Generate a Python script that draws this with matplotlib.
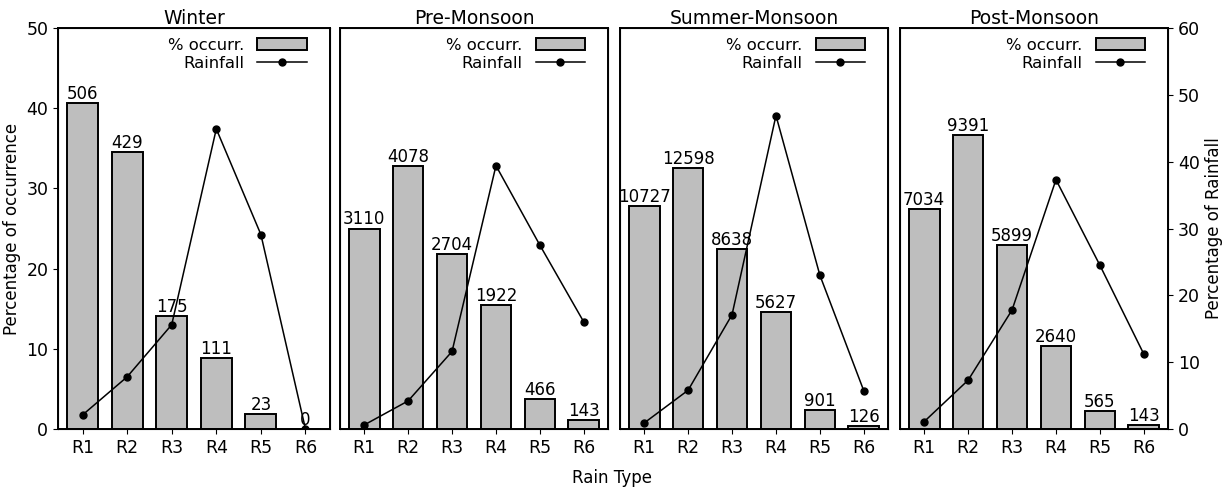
import matplotlib
matplotlib.use("Agg")
import matplotlib.pyplot as plt
from matplotlib.patches import Patch
from matplotlib.lines import Line2D

rain_types = ["R1", "R2", "R3", "R4", "R5", "R6"]
seasons = ["Winter", "Pre-Monsoon", "Summer-Monsoon", "Post-Monsoon"]

counts_winter = [506, 429, 175, 111, 23, 0]
counts_pre = [3110, 4078, 2704, 1922, 466, 143]
counts_summer = [10727, 12598, 8638, 5627, 901, 126]
counts_post = [7034, 9391, 5899, 2640, 565, 143]

occ_winter = [40.7, 34.5, 14.1, 8.9, 1.85, 0.0]
occ_pre = [25.0, 32.8, 21.8, 15.5, 3.75, 1.15]
occ_summer = [27.8, 32.6, 22.4, 14.6, 2.33, 0.33]
occ_post = [27.4, 36.6, 23.0, 10.3, 2.2, 0.56]

rain_winter = [2.1, 7.8, 15.6, 44.9, 29.1, 0.0]
rain_pre = [0.6, 4.2, 11.6, 39.4, 27.5, 16.0]
rain_summer = [0.9, 5.8, 17.1, 46.9, 23.0, 5.7]
rain_post = [1.1, 7.3, 17.8, 37.3, 24.5, 11.2]

counts = [counts_winter, counts_pre, counts_summer, counts_post]
occs = [occ_winter, occ_pre, occ_summer, occ_post]
rains = [rain_winter, rain_pre, rain_summer, rain_post]

W, H = 1230, 488
fig = plt.figure(figsize=(W / 100, H / 100), dpi=100)
lefts = [58, 340, 620, 900]
widths = [272, 268, 268, 268]
top, bottom = 28, 429
bar_color = "#bebebe"

for i in range(4):
    ax = fig.add_axes([lefts[i] / W, 1 - bottom / H, widths[i] / W, (bottom - top) / H])
    x = list(range(len(rain_types)))
    ax.bar(x, occs[i], width=0.7, color=bar_color, edgecolor="black", linewidth=1.4)
    for xi, v, c in zip(x, occs[i], counts[i]):
        ax.text(xi, v, str(c), ha="center", va="bottom", fontsize=12)
    ax.set_ylim(0, 50)
    ax.set_xlim(-0.55, 5.55)
    ax.set_xticks(x)
    ax.set_xticklabels(rain_types, fontsize=12.5)
    ax.set_title(seasons[i], fontsize=13.5, pad=2)
    for s in ax.spines.values():
        s.set_linewidth(1.4)
    if i == 0:
        ax.set_yticks([0, 10, 20, 30, 40, 50])
        ax.tick_params(axis="y", labelsize=12.5)
        ax.set_ylabel("Percentage of occurrence", fontsize=12)
    else:
        ax.set_yticks([])
    ax2 = ax.twinx()
    ax2.plot(x, rains[i], color="black", linewidth=1.1, marker="o", markersize=5)
    ax2.set_ylim(0, 60)
    if i == 3:
        ax2.set_yticks([0, 10, 20, 30, 40, 50, 60])
        ax2.tick_params(axis="y", labelsize=12.5)
        ax2.set_ylabel("Percentage of Rainfall", fontsize=12)
    else:
        ax2.set_yticks([])
    handles = [Patch(facecolor=bar_color, edgecolor="black", linewidth=1.4),
               Line2D([0], [0], color="black", linewidth=1.1, marker="o", markersize=5)]
    ax2.legend(handles, ["% occurr.", "Rainfall"], loc="upper right", frameon=False,
               fontsize=11.8, handlelength=3.0, markerfirst=False, borderaxespad=0.2,
               labelspacing=0.2, numpoints=1, bbox_to_anchor=(0.95, 1.0))

fig.text(612 / W, 1 - 478 / H, "Rain Type", ha="center", va="center", fontsize=12)
fig.savefig("out.png", dpi=100)
